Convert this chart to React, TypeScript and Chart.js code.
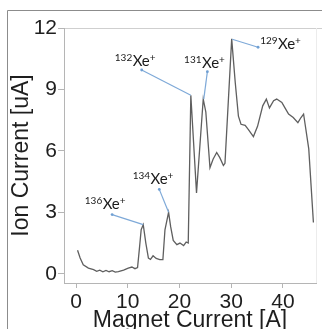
import React, { useEffect, useRef } from "react";
import { Chart, registerables } from "chart.js";

Chart.register(...registerables);

const magnetCurrent = [
  0.3, 0.8, 1.4, 2.4, 3.4, 4.0, 4.6, 5.2, 5.8, 6.4, 7.0, 7.6, 8.2, 9.2, 10.1, 10.8, 11.4, 11.9,
  12.3, 12.6, 13.0, 13.5, 14.0, 14.4, 14.9, 15.5, 16.2, 16.8, 17.2, 17.9, 18.3, 18.8, 19.5, 20.1,
  20.8, 21.3, 21.7, 22.2, 23.3, 24.6, 25.1, 25.9, 26.5, 27.2, 27.8, 28.5, 28.8, 30.1, 30.8, 31.4,
  31.9, 32.7, 33.3, 34.3, 35.1, 36.1, 36.8, 37.4, 38.2, 38.8, 39.8, 40.4, 41.1, 42.0, 42.9, 43.5,
  44.0, 45.0, 45.9,
];
const ionCurrent = [
  1.15, 0.77, 0.44, 0.28, 0.2, 0.12, 0.18, 0.1, 0.16, 0.1, 0.15, 0.08, 0.1, 0.18, 0.28, 0.33, 0.25, 0.3,
  1.34, 2.15, 2.4, 1.5, 0.77, 0.7, 0.88, 0.75, 0.69, 0.69, 2.15, 3.0, 2.3, 1.63, 1.42, 1.5,
  1.38, 1.55, 1.5, 8.72, 3.95, 8.53, 7.9, 5.18, 5.59, 5.92, 5.67, 5.29, 5.39, 11.47, 9.3, 7.7,
  7.3, 7.25, 7.05, 6.7, 7.2, 8.2, 8.53, 8.1, 8.45, 8.53, 8.37, 8.1, 7.8, 7.63, 7.38, 7.63,
  7.8, 6.1, 2.5,
];
const xTicks = [0, 10, 20, 30, 40];
const yTicks = [0, 3, 6, 9, 12];

const isotopeMass = ["136", "134", "132", "131", "129"];
const labelX = [1.7, 10.95, 7.5, 20.9, 35.6];
const labelY = [3.18, 4.4, 10.13, 10.03, 10.98];
const leaderStartX = [6.98, 16.1, 12.7, 25.4, 35.2];
const leaderStartY = [2.89, 4.12, 9.95, 9.87, 11.06];
const peakX = [13.0, 17.9, 22.2, 24.7, 30.2];
const peakY = [2.4, 3.0, 8.72, 8.53, 11.45];

const annotationPlugin = {
  id: "isotopeLabels",
  afterDatasetsDraw(chart: any) {
    const { ctx, scales } = chart;
    const xs = scales.x;
    const ys = scales.y;
    ctx.save();
    for (let i = 0; i < isotopeMass.length; i++) {
      const sx = xs.getPixelForValue(leaderStartX[i]);
      const sy = ys.getPixelForValue(leaderStartY[i]);
      const ex = xs.getPixelForValue(peakX[i]);
      const ey = ys.getPixelForValue(peakY[i]);
      ctx.strokeStyle = "#7ea9d8";
      ctx.lineWidth = 1.2;
      ctx.beginPath();
      ctx.moveTo(sx, sy);
      ctx.lineTo(ex, ey);
      ctx.stroke();
      ctx.fillStyle = "#6f9fd3";
      ctx.beginPath();
      ctx.arc(sx, sy, 1.4, 0, Math.PI * 2);
      ctx.fill();

      const lx = xs.getPixelForValue(labelX[i]);
      const ly = ys.getPixelForValue(labelY[i]);
      ctx.fillStyle = "#1a1a1a";
      ctx.textBaseline = "alphabetic";
      ctx.textAlign = "left";
      ctx.font = "10px Lato";
      ctx.fillText(isotopeMass[i], lx, ly - 5);
      const w1 = ctx.measureText(isotopeMass[i]).width;
      ctx.font = "15px Lato";
      ctx.fillText("Xe", lx + w1 + 0.5, ly);
      const w2 = ctx.measureText("Xe").width;
      ctx.font = "10px Lato";
      ctx.fillText("+", lx + w1 + w2 + 0.5, ly - 5);
    }
    ctx.restore();
  },
};

const framePlugin = {
  id: "frame",
  beforeDraw(chart: any) {
    const { ctx, chartArea, width, height } = chart;
    ctx.save();
    ctx.strokeStyle = "#8c8c8c";
    ctx.lineWidth = 1;
    ctx.beginPath();
    ctx.moveTo(7.5, height);
    ctx.lineTo(7.5, 10.5);
    ctx.lineTo(width, 10.5);
    ctx.stroke();
    ctx.strokeStyle = "#cfcfcf";
    ctx.beginPath();
    ctx.moveTo(chartArea.left, chartArea.top + 0.5);
    ctx.lineTo(width, chartArea.top + 0.5);
    ctx.stroke();
    ctx.strokeStyle = "#ececec";
    ctx.beginPath();
    ctx.moveTo(chartArea.right + 0.5, chartArea.top);
    ctx.lineTo(chartArea.right + 0.5, chartArea.bottom);
    ctx.stroke();
    ctx.restore();
  },
};

export default function App() {
  const ref = useRef<HTMLCanvasElement | null>(null);
  useEffect(() => {
    if (!ref.current) return;
    const points = magnetCurrent.map((x, i) => ({ x, y: ionCurrent[i] }));
    const chart = new Chart(ref.current, {
      type: "line",
      data: {
        datasets: [
          {
            data: points,
            borderColor: "#5f5f5f",
            borderWidth: 1.3,
            pointRadius: 0,
            tension: 0,
            fill: false,
          },
        ],
      },
      options: {
        animation: false,
        responsive: false,
        maintainAspectRatio: false,
        layout: { padding: { top: 28, right: 6, left: 0, bottom: 0 } },
        plugins: { legend: { display: false }, tooltip: { enabled: false } },
        scales: {
          x: {
            type: "linear",
            min: -2.32,
            max: 46.4,
            afterBuildTicks: (s: any) => {
              s.ticks = xTicks.map((v) => ({ value: v }));
            },
            afterFit: (s: any) => {
              s.height = 46;
            },
            grid: { drawOnChartArea: false, drawTicks: true, tickLength: 5, color: "#b5b5b5" },
            border: { display: true, color: "#b5b5b5", width: 1 },
            ticks: {
              padding: 2,
              color: "#1e1e1e",
              font: { family: "'Liberation Sans', Arial", size: 21 },
              maxRotation: 0,
            },
            title: {
              display: true,
              text: "Magnet Current [A]",
              color: "#1e1e1e",
              font: { family: "'Liberation Sans', Arial", size: 23 },
              padding: { top: -5, bottom: -5 },
            },
          },
          y: {
            type: "linear",
            min: -0.45,
            max: 12,
            afterBuildTicks: (s: any) => {
              s.ticks = yTicks.map((v) => ({ value: v }));
            },
            afterFit: (s: any) => {
              s.width = 64;
            },
            grid: { drawOnChartArea: false, drawTicks: true, tickLength: 6, color: "#b5b5b5" },
            border: { display: true, color: "#b5b5b5", width: 1 },
            ticks: {
              padding: 1,
              color: "#1e1e1e",
              font: { family: "'Liberation Sans', Arial", size: 21 },
            },
            title: {
              display: true,
              text: "Ion Current [uA]",
              color: "#1e1e1e",
              font: { family: "'Liberation Sans', Arial", size: 23 },
              padding: { top: 8, bottom: 8 },
            },
          },
        },
      },
      plugins: [framePlugin, annotationPlugin],
    });
    return () => chart.destroy();
  }, []);
  return (
    <div style={{ position: "absolute", left: 0, top: 0, width: 322, height: 329, background: "#fff" }}>
      <canvas ref={ref} width={322} height={329} style={{ display: "block", width: 322, height: 329 }} />
    </div>
  );
}
